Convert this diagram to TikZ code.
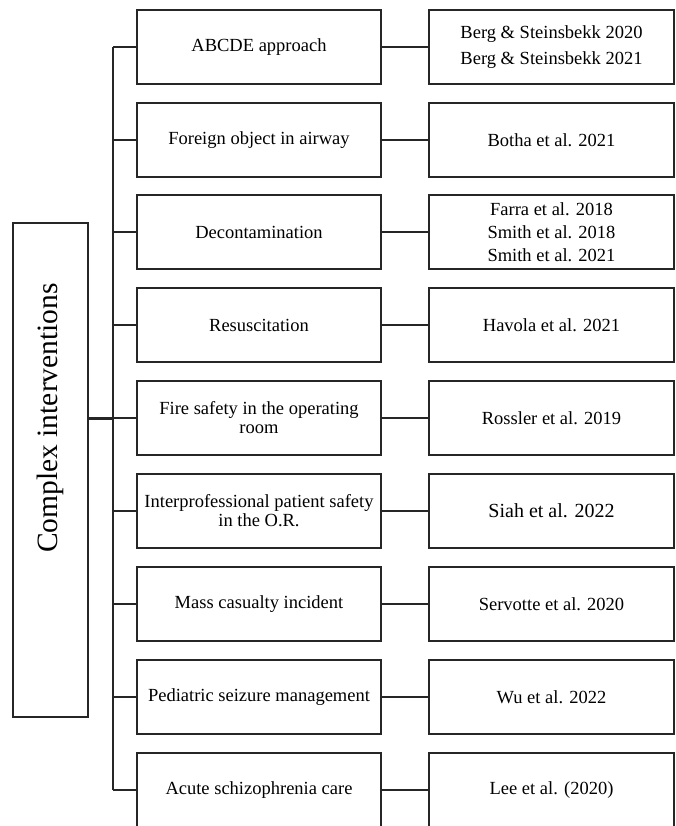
\documentclass[tikz,border=0pt]{standalone}
\usepackage{fontspec}
\setmainfont{Liberation Serif}
\begin{document}
\begin{tikzpicture}[x=1pt,y=-1pt,
  box/.style={draw=black!85, line width=1.4pt, inner sep=0pt, outer sep=0pt, align=center},
  midbox/.style={box, minimum width=244pt, minimum height=74pt, font=\fontsize{18.5}{19}\selectfont},
  refbox/.style={box, minimum width=245pt, minimum height=74pt, font=\fontsize{18.5}{26}\selectfont},
  link/.style={draw=black!85, line width=1.4pt}]
\useasboundingbox (0,0) rectangle (676,826);
\clip (0,0) rectangle (676,826);
% left box
\node[box, minimum width=75pt, minimum height=494pt] (root) at (50.5,470) {};
\node[rotate=90, font=\fontsize{29.5}{30}\selectfont, inner sep=0pt] (roottext) at (50.5,418) {Complex interventions};
\coordinate (trunktop) at (113,47);
\coordinate (trunkbot) at (113,790);
% middle boxes
\node[midbox] (m1) at (259,47) {ABCDE approach};
\node[midbox] (m2) at (259,140) {Foreign object in airway};
\node[midbox] (m3) at (259,232) {Decontamination};
\node[midbox] (m4) at (259,325) {Resuscitation};
\node[midbox] (m5) at (259,418) {Fire safety in the operating\\room};
\node[midbox] (m6) at (259,511) {Interprofessional patient safety\\in the O.R.};
\node[midbox] (m7) at (259,604) {Mass casualty incident};
\node[midbox] (m8) at (259,697) {Pediatric seizure management};
\node[midbox] (m9) at (259,790) {Acute schizophrenia care};
% reference boxes
\node[refbox] (r1) at (551.5,47) {Berg \& Steinsbekk 2020\\Berg \& Steinsbekk 2021};
\node[refbox] (r2) at (551.5,140) {Botha et al. 2021};
\node[refbox, font=\fontsize{18.5}{23}\selectfont] (r3) at (551.5,232) {Farra et al. 2018\\Smith et al. 2018\\Smith et al. 2021};
\node[refbox] (r4) at (551.5,325) {Havola et al. 2021};
\node[refbox] (r5) at (551.5,418) {Rossler et al. 2019};
\node[refbox, font=\fontsize{20}{22}\selectfont] (r6) at (551.5,511) {Siah et al. 2022};
\node[refbox] (r7) at (551.5,604) {Servotte et al. 2020};
\node[refbox] (r8) at (551.5,697) {Wu et al. 2022};
\node[refbox] (r9) at (551.5,790) {Lee et al. (2020)};
% trunk
\draw[link, line width=2pt] (trunktop) -- (trunkbot);
\draw[link, line width=3pt] (root.east |- m5) -- (trunktop |- m5);
\foreach \i in {1,...,9}{
  \draw[link] (trunktop |- m\i.west) -- (m\i.west);
  \draw[link] (m\i.east) -- (r\i.west);
}
\end{tikzpicture}
\end{document}
